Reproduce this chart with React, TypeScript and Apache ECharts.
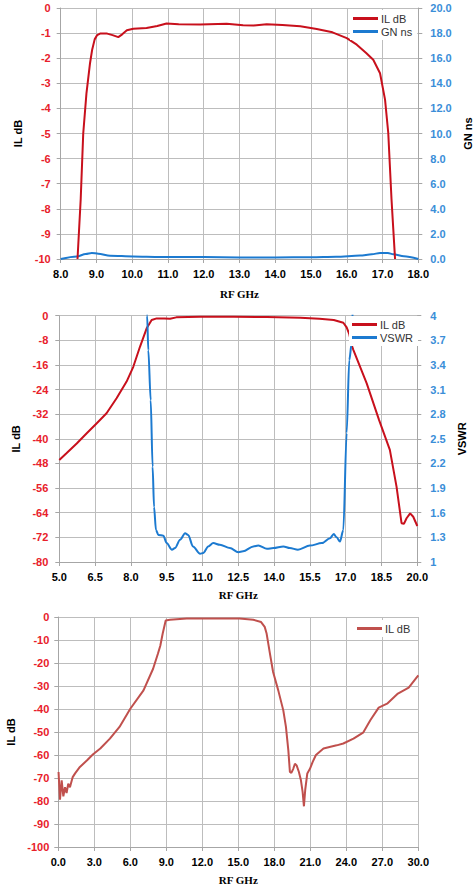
import React, { useEffect, useRef } from "react";
import * as echarts from "echarts";

// ---------- Top chart: IL dB and GN ns vs RF GHz ----------
const topILFreq = [8.47, 8.56, 8.63, 8.72, 8.82, 8.88, 8.95, 9.02, 9.1, 9.3, 9.45, 9.61, 9.72, 9.85, 10.03, 10.4, 10.7, 10.96, 11.3, 11.9, 12.64, 13.1, 13.4, 13.76, 14.2, 14.7, 15.16, 15.6, 16.0, 16.28, 16.55, 16.74, 16.93, 17.07, 17.16, 17.25, 17.3, 17.35];
const topIL = [-10, -7.6, -5.0, -3.4, -2.2, -1.66, -1.25, -1.08, -1.02, -1.02, -1.08, -1.16, -1.05, -0.89, -0.83, -0.8, -0.72, -0.62, -0.65, -0.66, -0.63, -0.69, -0.7, -0.65, -0.68, -0.73, -0.84, -0.97, -1.2, -1.46, -1.8, -2.06, -2.6, -3.65, -4.98, -7.6, -8.8, -10];
const topGNFreq = [8.0, 8.45, 8.7, 8.87, 9.05, 9.38, 10.03, 10.78, 12.0, 13.0, 14.0, 15.0, 15.7, 16.37, 16.7, 16.93, 17.15, 17.3, 17.6, 18.0];
const topGN = [0.0, 0.2, 0.4, 0.48, 0.42, 0.26, 0.2, 0.16, 0.15, 0.12, 0.12, 0.14, 0.18, 0.27, 0.38, 0.48, 0.47, 0.38, 0.22, 0.0];

// ---------- Middle chart: IL dB and VSWR vs RF GHz ----------
const midILFreq = [5.0, 5.3, 5.73, 6.15, 6.56, 6.98, 7.4, 7.82, 8.1, 8.38, 8.66, 8.87, 9.08, 9.4, 9.64, 9.9, 10.9, 12.3, 13.7, 15.1, 15.9, 16.5, 16.9, 17.04, 17.15, 17.25, 17.32, 17.88, 18.4, 18.85, 19.13, 19.34, 19.44, 19.55, 19.7, 19.83, 20.0];
const midIL = [-46.9, -44.7, -41.5, -38.2, -35, -31.7, -26.8, -21.4, -16.6, -10.1, -4.1, -1.4, -0.87, -0.9, -1.0, -0.54, -0.32, -0.32, -0.43, -0.65, -1.0, -1.4, -2.3, -3.8, -6.0, -9.5, -11.1, -22, -33.9, -43.6, -55.5, -67.4, -67.6, -65.8, -64.2, -65.3, -68.3];
const midVSWRFreq = [8.6, 8.68, 8.73, 8.83, 8.91, 8.97, 9.05, 9.15, 9.36, 9.5, 9.72, 9.85, 10.06, 10.27, 10.4, 10.6, 10.9, 11.03, 11.24, 11.45, 11.73, 12.15, 12.5, 12.7, 13.13, 13.34, 13.7, 13.97, 14.39, 14.66, 15.0, 15.5, 16.0, 16.34, 16.5, 16.62, 16.76, 16.9, 17.04, 17.15, 17.25, 17.32];
const midVSWR = [4.5, 4.0, 3.58, 2.97, 2.16, 1.67, 1.39, 1.33, 1.32, 1.23, 1.15, 1.17, 1.27, 1.35, 1.33, 1.19, 1.1, 1.11, 1.19, 1.23, 1.21, 1.17, 1.12, 1.13, 1.19, 1.2, 1.16, 1.17, 1.19, 1.17, 1.15, 1.2, 1.23, 1.29, 1.34, 1.3, 1.25, 1.39, 2.57, 3.46, 3.66, 4.5];
const midXTicks = [5.0, 6.5, 8.0, 9.5, 11.0, 12.5, 14.0, 15.5, 17.0, 18.5, 20.0];
const midVSWRTicks = [1, 1.3, 1.6, 1.9, 2.2, 2.5, 2.8, 3.1, 3.4, 3.7, 4];

// ---------- Bottom chart: wideband IL dB vs RF GHz ----------
const botFreq = [0.02, 0.14, 0.28, 0.42, 0.56, 0.69, 0.83, 0.97, 1.2, 1.4, 1.8, 2.4, 2.9, 3.5, 4.3, 5.1, 6.0, 7.1, 7.9, 8.3, 8.5, 8.7, 8.95, 9.3, 10.7, 12.9, 15.1, 16.25, 16.9, 17.2, 17.36, 17.64, 17.9, 18.33, 18.75, 18.97, 19.17, 19.3, 19.42, 19.58, 19.72, 19.86, 20.05, 20.22, 20.36, 20.47, 20.58, 20.75, 20.97, 21.2, 21.47, 22.1, 22.6, 23.2, 23.75, 24.6, 25.4, 26.0, 26.7, 27.4, 28.3, 29.2, 30.0];
const botIL = [-67.4, -79.4, -71, -78, -74, -76.5, -72.5, -74, -69.6, -68, -65.2, -62.3, -59.7, -57.2, -52.9, -47.8, -39.9, -31.9, -22.5, -16, -12.5, -7.2, -1.5, -1.2, -0.7, -0.6, -0.7, -1.2, -2.2, -4.3, -7.2, -16, -23.9, -31.9, -40.6, -47.8, -58, -67.4, -67.8, -66, -63.8, -64.5, -67.4, -71, -76, -82.3, -75, -68, -66, -63, -60, -57.2, -56.5, -55.8, -55, -52.9, -50.3, -44.9, -39.4, -37.7, -33.3, -30.7, -25.4];

const RED = "#c8101c";
const BLUE = "#1c7ad0";
const BOT_RED = "#c0504d";
const LABEL_RED = "#e8202a";
const LABEL_BLUE = "#3a8ed8";
const GRID_GRAY = "#bdbdbd";
const AXIS_GRAY = "#a6a6a6";

const zip = (xs: number[], ys: number[]) => xs.map((x, i) => [x, ys[i]]);

const nameStyleSans = { fontFamily: "Liberation Sans", fontWeight: "bold", fontSize: 11, color: "#000" };
const nameStyleSerif = { fontFamily: "Liberation Serif", fontWeight: "bold", fontSize: 11, color: "#000" };

function xAxisOf(gridIndex: number, min: number, max: number, interval: number, nameGap: number, custom?: number[]) {
  const ax: any = {
    type: "value",
    gridIndex,
    min,
    max,
    interval,
    name: "RF GHz",
    nameLocation: "middle",
    nameGap,
    nameTextStyle: nameStyleSerif,
    axisLine: { show: true, onZero: false, lineStyle: { color: AXIS_GRAY, width: 1 } },
    axisTick: { show: true, length: 4, lineStyle: { color: AXIS_GRAY } },
    axisLabel: {
      show: true,
      margin: 9,
      color: "#000",
      fontFamily: "Liberation Sans",
      fontWeight: "bold",
      fontSize: 11,
      showMinLabel: true,
      showMaxLabel: true,
      hideOverlap: false,
      formatter: (v: number) => v.toFixed(1),
    },
    splitLine: { show: true, lineStyle: { color: GRID_GRAY, width: 1 } },
  };
  if (custom) {
    delete ax.interval;
    ax.axisTick.customValues = custom;
    ax.axisLabel.customValues = custom;
  }
  return ax;
}

function yLeft(gridIndex: number, min: number, max: number, interval: number, nameGap: number, margin: number) {
  return {
    type: "value",
    gridIndex,
    position: "left",
    min,
    max,
    interval,
    name: "IL dB",
    nameLocation: "middle",
    nameGap,
    nameRotate: 90,
    nameTextStyle: nameStyleSans,
    axisLine: { show: true, lineStyle: { color: AXIS_GRAY, width: 1 } },
    axisTick: { show: true, length: 4, lineStyle: { color: AXIS_GRAY } },
    axisLabel: {
      margin,
      color: LABEL_RED,
      fontFamily: "Liberation Sans",
      fontWeight: "bold",
      fontSize: 11,
      showMinLabel: true,
      showMaxLabel: true,
    },
    splitLine: { show: true, lineStyle: { color: GRID_GRAY, width: 1 } },
  };
}

function yRight(gridIndex: number, name: string, min: number, max: number, nameGap: number, margin: number, extra: any) {
  const ax: any = {
    type: "value",
    gridIndex,
    position: "right",
    min,
    max,
    name,
    nameLocation: "middle",
    nameGap,
    nameRotate: 90,
    nameTextStyle: nameStyleSans,
    axisLine: { show: true, lineStyle: { color: AXIS_GRAY, width: 1 } },
    axisTick: { show: true, length: 4, lineStyle: { color: AXIS_GRAY } },
    axisLabel: {
      margin,
      color: LABEL_BLUE,
      fontFamily: "Liberation Sans",
      fontWeight: "bold",
      fontSize: 11,
      showMinLabel: true,
      showMaxLabel: true,
    },
    splitLine: { show: false },
  };
  if (extra.interval) ax.interval = extra.interval;
  if (extra.formatter) ax.axisLabel.formatter = extra.formatter;
  if (extra.custom) {
    ax.axisTick.customValues = extra.custom;
    ax.axisLabel.customValues = extra.custom;
  }
  return ax;
}

function legendOf(left: number, top: number, items: { name: string; color: string }[]) {
  return {
    show: true,
    orient: "vertical",
    left,
    top,
    padding: [3, 5, 3, 3],
    backgroundColor: "#ffffff",
    itemGap: 2,
    itemWidth: 25,
    itemHeight: 3,
    icon: "rect",
    selectedMode: false,
    textStyle: { fontFamily: "Liberation Sans", fontSize: 11, color: "#333", padding: [0, 0, 0, -2] },
    data: items.map((it) => ({ name: it.name, icon: "rect", itemStyle: { color: it.color, borderWidth: 0 } })),
  };
}

function lineSeries(name: string, xi: number, yi: number, data: number[][], color: string, z: number, smooth = 0) {
  return {
    name,
    type: "line",
    xAxisIndex: xi,
    yAxisIndex: yi,
    data,
    showSymbol: false,
    symbol: "none",
    smooth: smooth > 0 ? smooth : false,
    smoothMonotone: smooth > 0 ? "x" : undefined,
    clip: true,
    z,
    color,
    lineStyle: { color, width: 2 },
    itemStyle: { color },
    emphasis: { disabled: true },
  };
}

export default function App() {
  const ref = useRef<HTMLDivElement>(null);

  useEffect(() => {
    if (!ref.current) return;
    const chart = echarts.init(ref.current, null, { renderer: "svg" });
    const option: any = {
      animation: false,
      backgroundColor: "#ffffff",
      textStyle: { fontFamily: "Liberation Sans" },
      grid: [
        { left: 60.7, right: 55.7, top: 8, height: 251, outerBoundsMode: "none", containLabel: false },
        { left: 59.3, right: 56.7, top: 315.7, height: 246.3, outerBoundsMode: "none", containLabel: false },
        { left: 58.3, right: 55.7, top: 617, height: 230, outerBoundsMode: "none", containLabel: false },
      ],
      xAxis: [
        xAxisOf(0, 8, 18, 1, 29),
        xAxisOf(1, 5, 20, 1.5, 27, midXTicks),
        xAxisOf(2, 0, 30, 3, 27),
      ],
      yAxis: [
        yLeft(0, -10, 0, 1, 33, 10),
        yRight(0, "GN ns", 0, 20, 41, 12, { interval: 2, formatter: (v: number) => v.toFixed(1) }),
        yLeft(1, -80, 0, 8, 33, 11),
        yRight(1, "VSWR", 1, 4, 33, 13, { custom: midVSWRTicks }),
        yLeft(2, -100, 0, 10, 38, 9),
      ],
      legend: [
        legendOf(350, 10, [
          { name: "IL dB", color: RED },
          { name: "GN ns", color: BLUE },
        ]),
        legendOf(349, 316, [
          { name: "IL dB", color: RED },
          { name: "VSWR", color: BLUE },
        ]),
        legendOf(354, 620, [{ name: "IL dB", color: BOT_RED }]),
      ],
      series: [
        lineSeries("GN ns", 0, 1, zip(topGNFreq, topGN), BLUE, 2, 0.3),
        lineSeries("IL dB", 0, 0, zip(topILFreq, topIL), RED, 3),
        lineSeries("IL dB", 1, 2, zip(midILFreq, midIL), RED, 2),
        lineSeries("VSWR", 1, 3, zip(midVSWRFreq, midVSWR), BLUE, 3, 0.3),
        lineSeries("IL dB", 2, 4, zip(botFreq, botIL), BOT_RED, 2),
      ],
    };
    chart.setOption(option);
    return () => {
      chart.dispose();
    };
  }, []);

  return (
    <div
      ref={ref}
      style={{ position: "absolute", left: 0, top: 0, width: 474, height: 889, background: "#fff" }}
    />
  );
}
